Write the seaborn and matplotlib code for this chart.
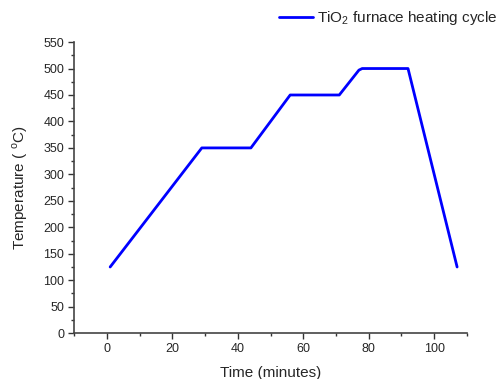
import matplotlib
matplotlib.use("Agg")
import matplotlib.pyplot as plt
import seaborn as sns
import pandas as pd
from matplotlib.ticker import MultipleLocator

time_min = [1, 29, 44, 56, 71, 77, 78, 92, 107]
temperature = [125, 350, 350, 450, 450, 497, 500, 500, 125]
series_label = r"TiO$_2$ furnace heating cycle"

df = pd.DataFrame({"time": time_min, "temp": temperature})

sns.set_style("ticks")
plt.rcParams["font.family"] = ["Liberation Sans", "DejaVu Sans"]
plt.rcParams["mathtext.fontset"] = "custom"
plt.rcParams["mathtext.rm"] = "Liberation Sans"

fig = plt.figure(figsize=(5.01, 3.79), dpi=100)
ax = fig.add_axes([0.148, 0.121, 0.784, 0.768])
sns.lineplot(data=df, x="time", y="temp", ax=ax, color="#0000ff", linewidth=2,
             label=series_label, sort=False)

ax.set_xlim(-10, 110)
ax.set_ylim(0, 550)
ax.xaxis.set_major_locator(MultipleLocator(20))
ax.xaxis.set_minor_locator(MultipleLocator(10))
ax.yaxis.set_major_locator(MultipleLocator(50))
ax.yaxis.set_minor_locator(MultipleLocator(25))
ax.set_xticks([0, 20, 40, 60, 80, 100])
ax.tick_params(which="major", length=4, width=1, color="#333333", labelsize=9, pad=3, direction="out")
ax.tick_params(which="minor", length=2.5, width=1, color="#333333")
for s in ["left", "bottom"]:
    ax.spines[s].set_color("#444444")
    ax.spines[s].set_linewidth(1.2)
sns.despine(ax=ax)
ax.set_xlabel("Time (minutes)", fontsize=11, labelpad=8)
ax.set_ylabel("Temperature ( $^{\\mathrm{o}}$C)", fontsize=11, labelpad=10)
ax.legend(loc="lower right", bbox_to_anchor=(1.095, 1.03), frameon=False, fontsize=11,
          handlelength=2.2, handletextpad=0.3, borderaxespad=0)
fig.savefig("out.png", dpi=100)
